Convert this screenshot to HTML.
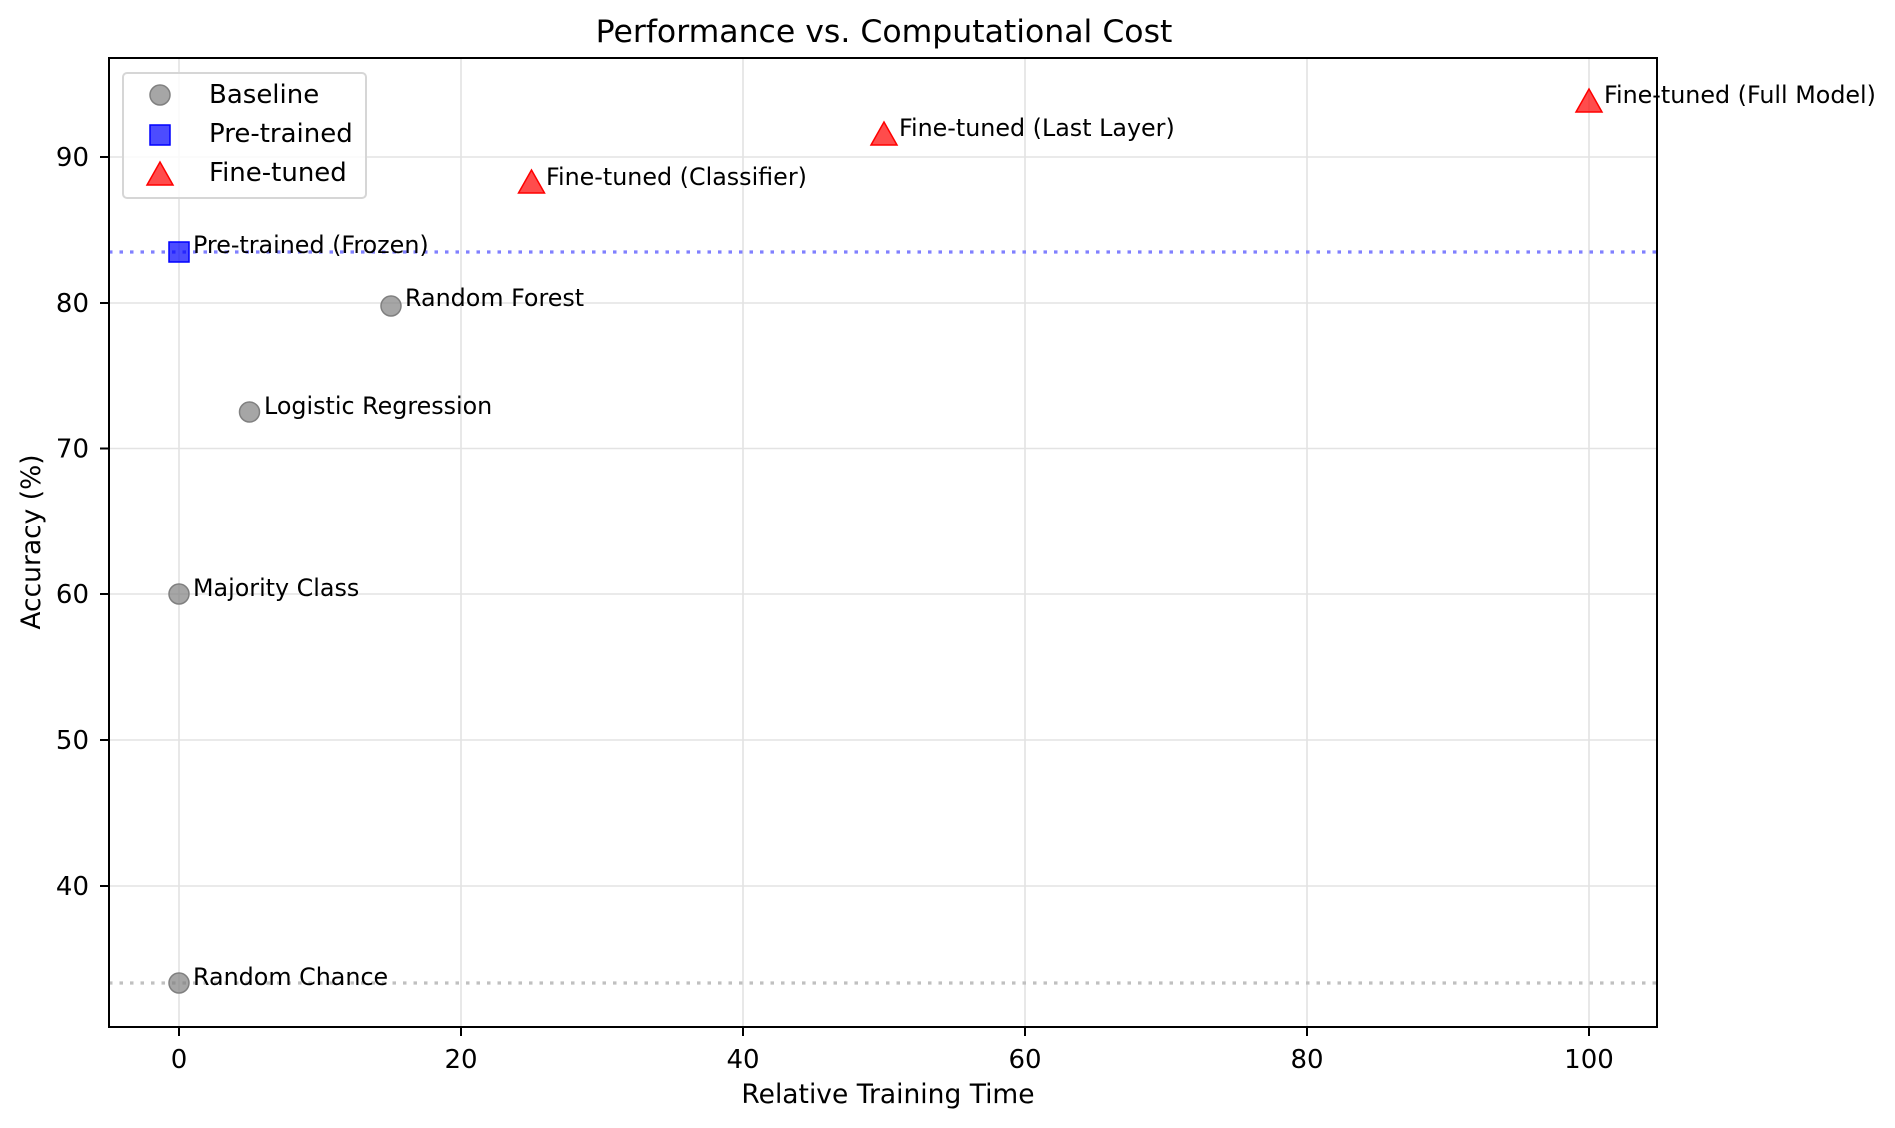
<!DOCTYPE html>
<html><head><meta charset="utf-8"><style>
html,body{margin:0;padding:0;background:#fff}
svg{display:block}
text{font-family:"DejaVu Sans","Liberation Sans",sans-serif;fill:#000}
</style></head><body>
<svg width="1895" height="1128" viewBox="0 0 1895 1128" xmlns="http://www.w3.org/2000/svg">
<rect width="1895" height="1128" fill="#fff"/>
<g stroke="#e3e3e3" stroke-width="1.6">
<line x1="179" y1="58" x2="179" y2="1027"/><line x1="461" y1="58" x2="461" y2="1027"/>
<line x1="743" y1="58" x2="743" y2="1027"/><line x1="1025" y1="58" x2="1025" y2="1027"/>
<line x1="1307" y1="58" x2="1307" y2="1027"/><line x1="1589" y1="58" x2="1589" y2="1027"/>
<line x1="109" y1="886" x2="1657" y2="886"/><line x1="109" y1="740" x2="1657" y2="740"/>
<line x1="109" y1="594" x2="1657" y2="594"/><line x1="109" y1="448.5" x2="1657" y2="448.5"/>
<line x1="109" y1="303" x2="1657" y2="303"/><line x1="109" y1="157" x2="1657" y2="157"/>
</g>
<line x1="109" y1="252" x2="1657" y2="252" stroke="#8080ff" stroke-width="3.3" stroke-dasharray="3.5 7"/>
<line x1="109" y1="983" x2="1657" y2="983" stroke="#c0c0c0" stroke-width="3.3" stroke-dasharray="3.5 7"/>
<g fill="#808080" fill-opacity="0.7" stroke="#808080" stroke-width="1.5">
<circle cx="179" cy="983" r="10"/><circle cx="179" cy="594" r="10"/>
<circle cx="249.5" cy="412" r="10"/><circle cx="391" cy="306" r="10"/>
</g>
<rect x="169" y="242" width="20" height="20" fill="#0000ff" fill-opacity="0.7" stroke="#0000ff" stroke-width="1.5"/>
<g fill="#ff0000" fill-opacity="0.7" stroke="#ff0000" stroke-width="1.5">
<polygon points="531.5,170 518.5,193 544.5,193"/>
<polygon points="884,122 871,145 897,145"/>
<polygon points="1589,89 1576,112 1602,112"/>
</g>
<g font-size="23.8">
<text x="193" y="985">Random Chance</text>
<text x="193" y="596">Majority Class</text>
<text x="264" y="414">Logistic Regression</text>
<text x="405" y="306">Random Forest</text>
<text x="193" y="253">Pre-trained (Frozen)</text>
<text x="546" y="185">Fine-tuned (Classifier)</text>
<text x="899" y="136">Fine-tuned (Last Layer)</text>
<text x="1604" y="103">Fine-tuned (Full Model)</text>
</g>
<rect x="109" y="58" width="1548" height="969" fill="none" stroke="#000" stroke-width="2"/>
<g stroke="#000" stroke-width="2">
<line x1="179" y1="1027" x2="179" y2="1036"/><line x1="461" y1="1027" x2="461" y2="1036"/>
<line x1="743" y1="1027" x2="743" y2="1036"/><line x1="1025" y1="1027" x2="1025" y2="1036"/>
<line x1="1307" y1="1027" x2="1307" y2="1036"/><line x1="1589" y1="1027" x2="1589" y2="1036"/>
<line x1="100" y1="886" x2="109" y2="886"/><line x1="100" y1="740" x2="109" y2="740"/>
<line x1="100" y1="594" x2="109" y2="594"/><line x1="100" y1="448.5" x2="109" y2="448.5"/>
<line x1="100" y1="303" x2="109" y2="303"/><line x1="100" y1="157" x2="109" y2="157"/>
</g>
<g font-size="26" text-anchor="middle">
<text x="179" y="1068">0</text><text x="461" y="1068">20</text><text x="743" y="1068">40</text>
<text x="1025" y="1068">60</text><text x="1307" y="1068">80</text><text x="1589" y="1068">100</text>
</g>
<g font-size="26" text-anchor="end">
<text x="89" y="895">40</text><text x="89" y="749">50</text><text x="89" y="603">60</text>
<text x="89" y="457.5">70</text><text x="89" y="312">80</text><text x="89" y="166">90</text>
</g>
<text x="888" y="1103" font-size="26.5" text-anchor="middle">Relative Training Time</text>
<text transform="translate(40,542) rotate(-90)" font-size="26.5" text-anchor="middle">Accuracy (%)</text>
<text x="884" y="42" font-size="31.5" text-anchor="middle">Performance vs. Computational Cost</text>
<rect x="123" y="73" width="243" height="125" rx="4" fill="#fff" fill-opacity="0.8" stroke="#d6d6d6" stroke-width="2"/>
<circle cx="160" cy="95" r="10" fill="#808080" fill-opacity="0.7" stroke="#808080" stroke-width="1.5"/>
<rect x="150" y="125" width="20" height="20" fill="#0000ff" fill-opacity="0.7" stroke="#0000ff" stroke-width="1.5"/>
<polygon points="160,162 147,185 173,185" fill="#ff0000" fill-opacity="0.7" stroke="#ff0000" stroke-width="1.5"/>
<g font-size="26">
<text x="209" y="103">Baseline</text>
<text x="209" y="142">Pre-trained</text>
<text x="209" y="181">Fine-tuned</text>
</g>
</svg>
</body></html>
